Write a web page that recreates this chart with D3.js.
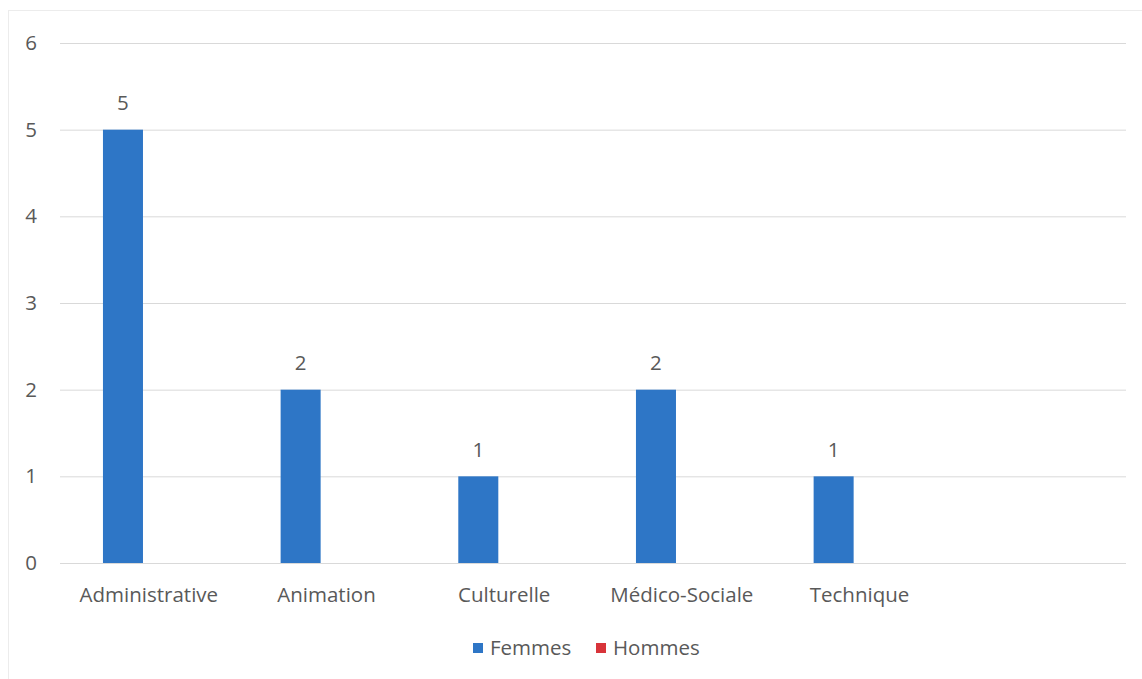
<!DOCTYPE html>
<html>
<head>
<meta charset="utf-8">
<script src="https://cdn.jsdelivr.net/npm/d3@7"></script>
<style>
  html, body { margin: 0; padding: 0; background: #ffffff; }
  svg { display: block; }
  text { font-family: "Open Sans", "Noto Sans", sans-serif; fill: #595959; }
</style>
</head>
<body>
<svg id="chart" width="1142" height="679"></svg>
<script>
// Effectifs par filière et par sexe
const categories = ["Administrative", "Animation", "Culturelle", "Médico-Sociale", "Technique", ""];
const seriesNames = ["Femmes", "Hommes"];
const femmes = [5, 2, 1, 2, 1, null];
const hommes = [null, null, null, null, null, null];
const yTicks = [0, 1, 2, 3, 4, 5, 6];
const seriesColors = ["#2e76c6", "#d8343a"];

const svg = d3.select("#chart");
const W = 1142, H = 679;
const margin = { left: 60, right: 15, top: 43, bottom: 116 };
const FS = 20.5;

// faint chart-area frame
svg.append("rect")
  .attr("x", 8.5).attr("y", 10.5)
  .attr("width", W - 8).attr("height", H)
  .attr("fill", "none").attr("stroke", "#ececec").attr("stroke-width", 1);

const x0 = d3.scaleBand()
  .domain(d3.range(categories.length))
  .range([margin.left, W - margin.right - 1])
  .padding(0);

const x1 = d3.scaleBand()
  .domain(seriesNames)
  .range([0, x0.bandwidth()])
  .paddingInner(0)
  .paddingOuter(1.22)
  .align(0.44);

const y = d3.scaleLinear()
  .domain([0, 6])
  .range([H - margin.bottom, margin.top]);

// horizontal gridlines
const yAxis = d3.axisLeft(y)
  .tickValues(yTicks)
  .tickSize(-(W - margin.right - margin.left - 1))
  .tickPadding(23)
  .tickFormat(d3.format("d"));

const gy = svg.append("g")
  .attr("transform", `translate(${margin.left},0)`)
  .call(yAxis);
gy.select(".domain").remove();
gy.selectAll(".tick line").attr("stroke", "#d9d9d9").attr("stroke-width", 1);
gy.selectAll(".tick text")
  .attr("font-size", FS)
  .attr("fill", "#595959")
  .style("font-family", "'Open Sans', sans-serif");

// category axis
const xAxis = d3.axisBottom(x0)
  .tickSize(0)
  .tickPadding(24)
  .tickFormat(i => categories[i]);
const gx = svg.append("g")
  .attr("transform", `translate(0,${y(0)})`)
  .call(xAxis);
gx.select(".domain").remove();
gx.selectAll(".tick text")
  .attr("font-size", FS)
  .attr("fill", "#595959")
  .style("font-family", "'Open Sans', sans-serif");

const rows = categories.map((c, i) => ({ i, values: [femmes[i], hommes[i]] }));

const groups = svg.append("g").selectAll("g")
  .data(rows)
  .join("g")
  .attr("transform", d => `translate(${x0(d.i)},0)`);

groups.selectAll("rect")
  .data(d => d.values.map((v, k) => ({ k, v })).filter(e => e.v != null))
  .join("rect")
  .attr("x", e => x1(seriesNames[e.k]))
  .attr("width", x1.bandwidth())
  .attr("y", e => y(e.v))
  .attr("height", e => y(0) - y(e.v))
  .attr("fill", e => seriesColors[e.k]);

// value labels
groups.selectAll("text.val")
  .data(d => d.values.map((v, k) => ({ k, v })).filter(e => e.v != null && e.v > 0))
  .join("text")
  .attr("class", "val")
  .attr("x", e => x1(seriesNames[e.k]) + x1.bandwidth() / 2)
  .attr("y", e => y(e.v) - 27)
  .attr("dy", "0.35em")
  .attr("text-anchor", "middle")
  .attr("font-size", FS)
  .attr("fill", "#404040")
  .text(e => e.v);

// legend
const legend = svg.append("g").attr("transform", "translate(473,648)");
const legendItems = [
  { name: seriesNames[0], color: seriesColors[0], x: 0 },
  { name: seriesNames[1], color: seriesColors[1], x: 123 }
];
const li = legend.selectAll("g").data(legendItems).join("g")
  .attr("transform", d => `translate(${d.x},0)`);
li.append("rect")
  .attr("x", 0).attr("y", -5)
  .attr("width", 10).attr("height", 10)
  .attr("fill", d => d.color);
li.append("text")
  .attr("x", 17).attr("y", 0)
  .attr("dy", "0.35em")
  .attr("font-size", FS)
  .attr("fill", "#595959")
  .text(d => d.name);
</script>
</body>
</html>
